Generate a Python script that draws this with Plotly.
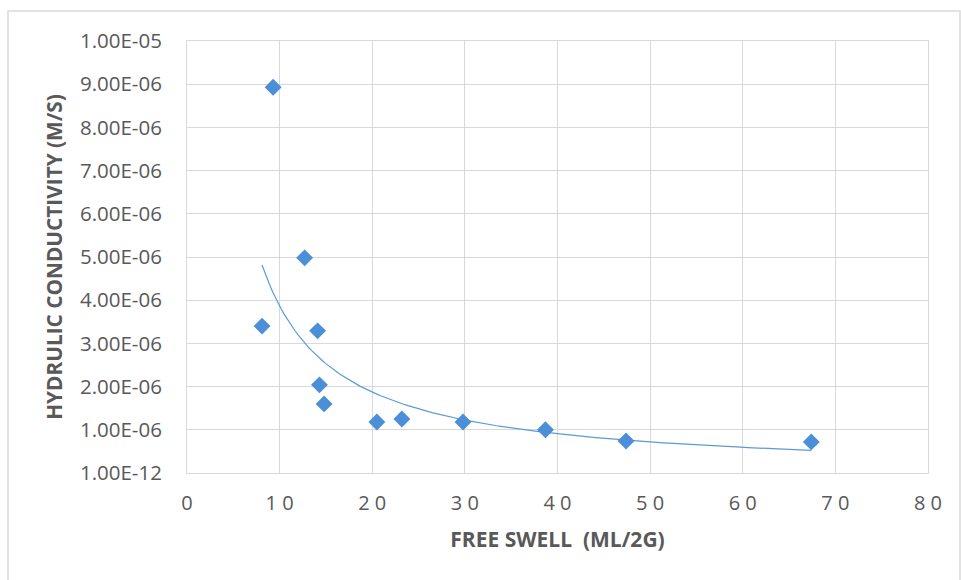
import numpy as np
import plotly.graph_objects as go

# Data
free_swell = [9.3, 8.1, 12.7, 14.1, 14.3, 14.8, 20.5, 23.2, 29.8, 38.7, 47.4, 67.4]
hydraulic_k = [8.93e-6, 3.40e-6, 4.98e-6, 3.29e-6, 2.04e-6, 1.60e-6,
               1.18e-6, 1.25e-6, 1.18e-6, 1.00e-6, 0.74e-6, 0.72e-6]

y_tick_vals = [0, 1e-6, 2e-6, 3e-6, 4e-6, 5e-6, 6e-6, 7e-6, 8e-6, 9e-6, 1e-5]
y_tick_text = ["1.00E-12", "1.00E-06", "2.00E-06", "3.00E-06", "4.00E-06", "5.00E-06",
               "6.00E-06", "7.00E-06", "8.00E-06", "9.00E-06", "1.00E-05"]
x_tick_vals = [0, 10, 20, 30, 40, 50, 60, 70, 80]
x_tick_text = ["0", "1 0", "2 0", "3 0", "4 0", "5 0", "6 0", "7 0", "8 0"]

# Power trendline (least squares in log space, as a spreadsheet power trendline)
lx = np.log(np.array(free_swell))
ly = np.log(np.array(hydraulic_k))
b, ln_a = np.polyfit(lx, ly, 1)
trend_x = np.linspace(min(free_swell), max(free_swell), 200)
trend_y = np.exp(ln_a) * trend_x ** b

fig = go.Figure()
fig.add_trace(go.Scatter(x=trend_x, y=trend_y, mode="lines",
                         line=dict(color="#5B9BD5", width=1.2),
                         hoverinfo="skip", showlegend=False))
fig.add_trace(go.Scatter(x=free_swell, y=hydraulic_k, mode="markers",
                         marker=dict(symbol="diamond", size=13, color="#4A8FD8"),
                         showlegend=False))

grid = "#D9D9D9"
fig.update_layout(
    width=961, height=580,
    margin=dict(l=187, r=33, t=41, b=107),
    paper_bgcolor="white", plot_bgcolor="white",
    font=dict(family="Open Sans, sans-serif", color="#595959"),
    xaxis=dict(range=[0, 80], tickvals=x_tick_vals, ticktext=x_tick_text,
               showgrid=True, gridcolor=grid, gridwidth=1, zeroline=False,
               showline=True, linecolor=grid, linewidth=1, mirror=True,
               tickfont=dict(size=20, color="#595959"), ticks="", ticklabelstandoff=12,
               title=dict(text="<b>FREE SWELL  (ML/2G)</b>", font=dict(size=21, color="#595959"),
                          standoff=17)),
    yaxis=dict(range=[0, 1e-5], tickvals=y_tick_vals, ticktext=y_tick_text,
               showgrid=True, gridcolor=grid, gridwidth=1, zeroline=False,
               showline=True, linecolor=grid, linewidth=1, mirror=True,
               tickfont=dict(size=20.5, color="#595959"), ticks="", ticklabelstandoff=20,
               title=dict(text="<b>HYDRULIC CONDUCTIVITY (M/S)</b>", font=dict(size=20.8, color="#595959"),
                          standoff=11)),
    shapes=[dict(type="rect", xref="paper", yref="paper",
                 x0=(8 - 187) / 741, x1=(960 - 187) / 741,
                 y0=(473 - 590) / 432, y1=(473 - 11) / 432,
                 line=dict(color="#D9D9D9", width=1.5), layer="below")],
)

fig.write_html("out.html")
